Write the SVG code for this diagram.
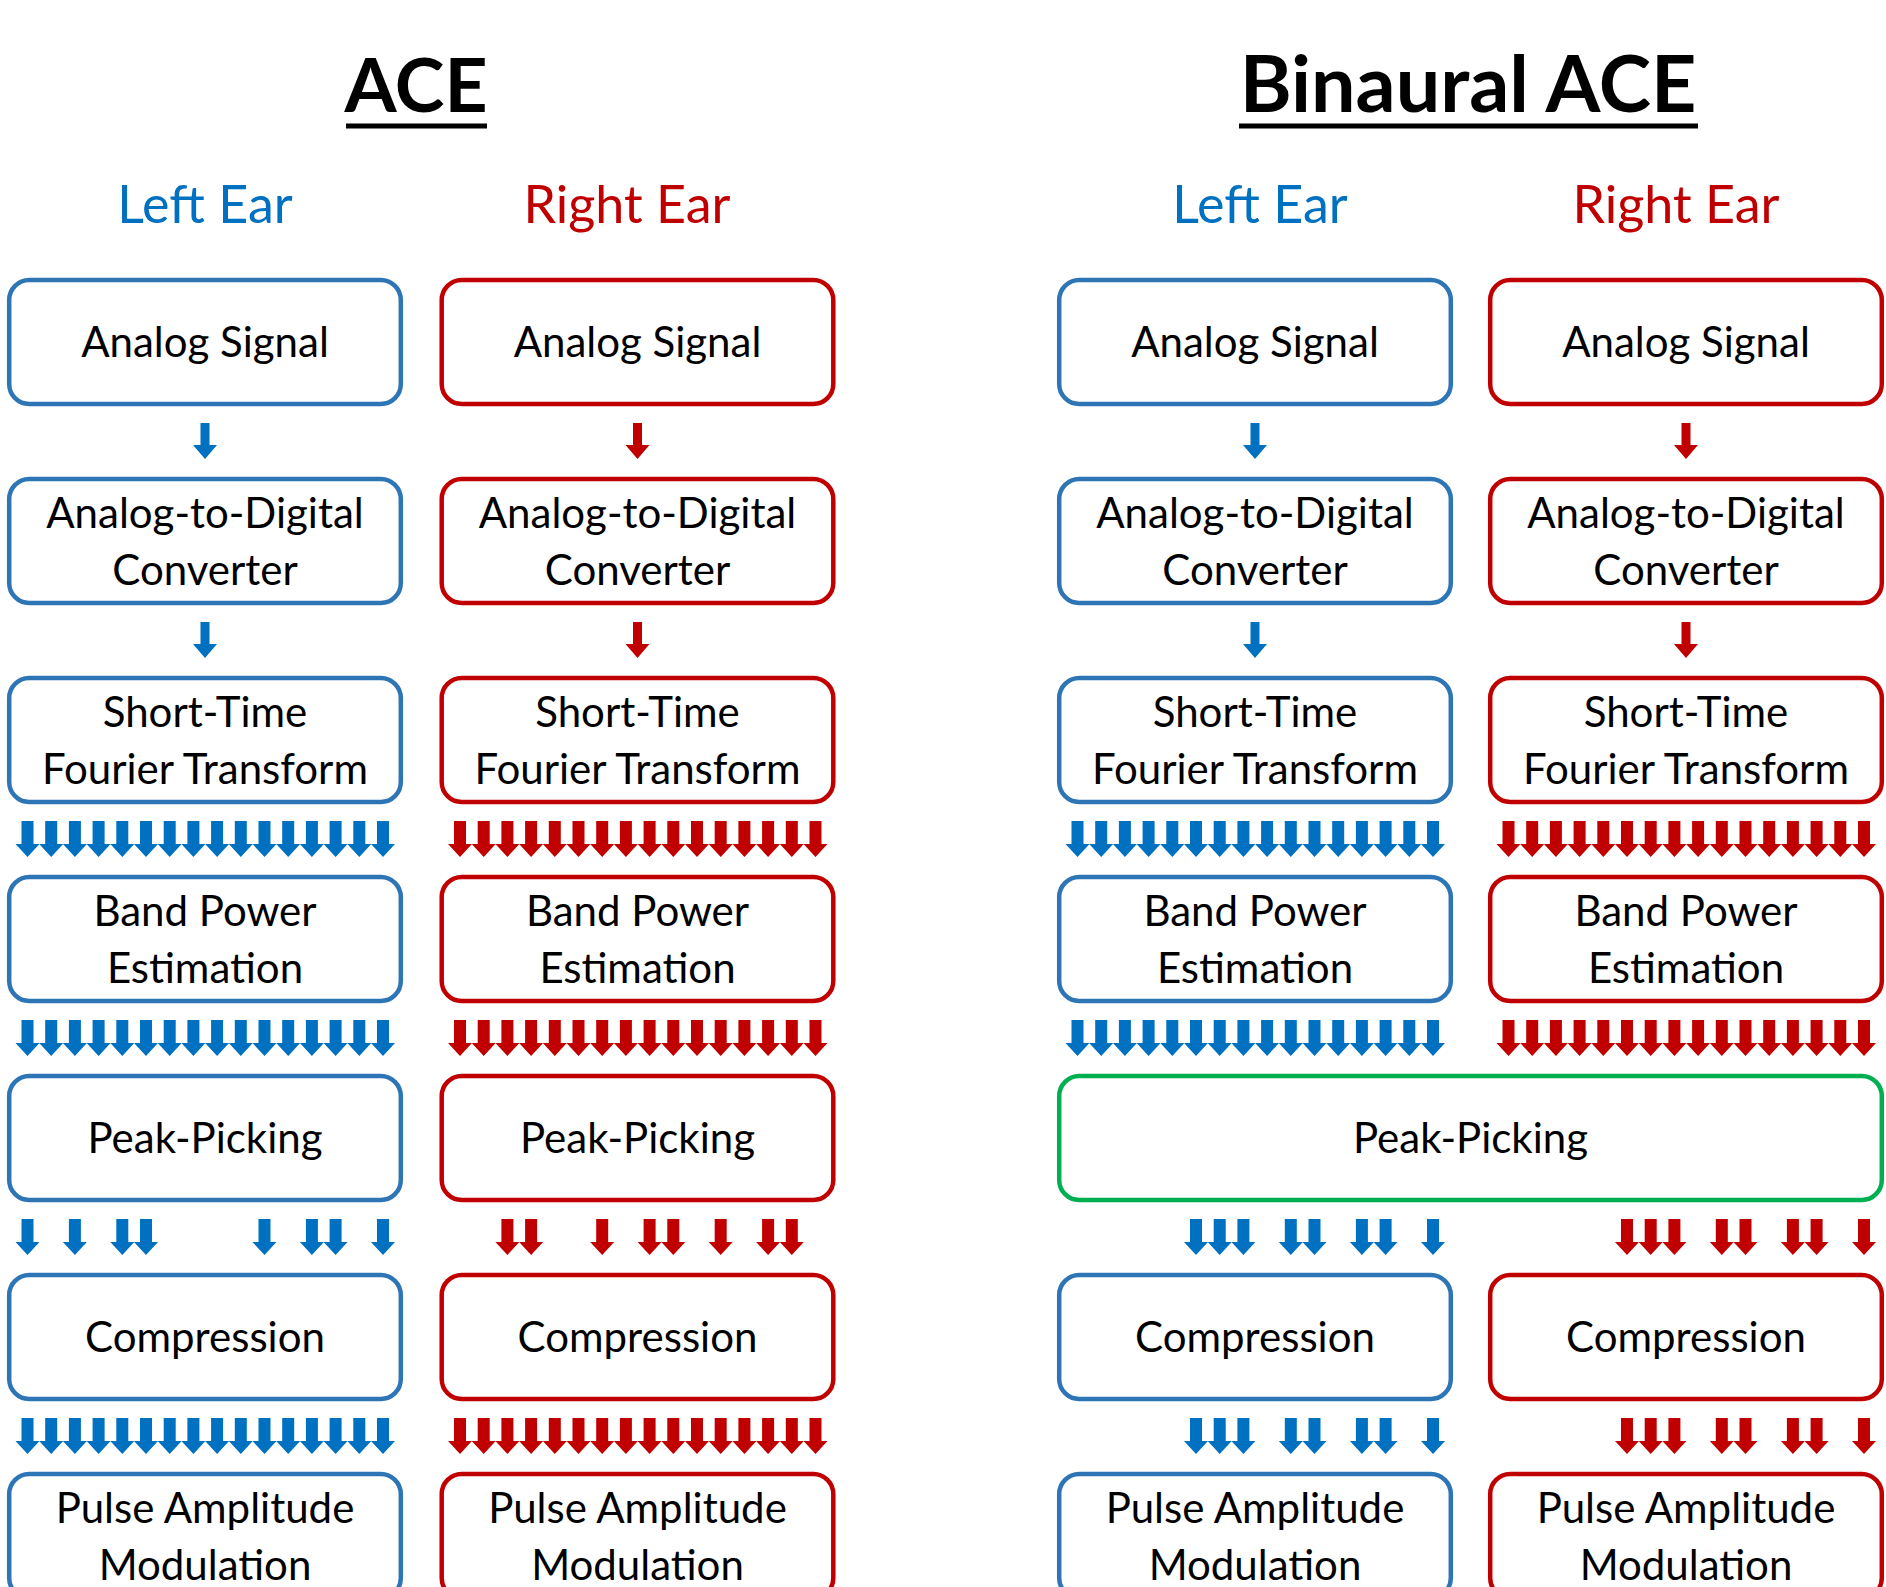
<svg xmlns="http://www.w3.org/2000/svg" xmlns:xlink="http://www.w3.org/1999/xlink" width="1886" height="1587" viewBox="0 0 1886 1587">
<style>
.box{fill:#fff;stroke-width:4.5}
.b{stroke:#2E75B6}
.r{stroke:#C00000}
.g{stroke:#00B050}
text{font-family:Lato,"Liberation Sans",sans-serif;text-anchor:middle;fill:#000}
.t{font-size:42px}
.ear{font-size:52px}
.lb{fill:#0070C0}
.lr{fill:#C00000}
.title{font-weight:bold;font-size:75px}
.ab{fill:#0070C0}
.ar{fill:#C00000}
</style>
<defs>
<path id="a1" d="M-4.5,0H4.5V22H12L0,36L-12,22H-4.5Z"/>
<path id="am" d="M-6,0H6V23H12L0,36L-12,23H-6Z"/>
<g id="row16">
<use href="#am" x="27.5"/><use href="#am" x="51.2"/><use href="#am" x="74.9"/><use href="#am" x="98.6"/>
<use href="#am" x="122.3"/><use href="#am" x="146"/><use href="#am" x="169.7"/><use href="#am" x="193.4"/>
<use href="#am" x="217.1"/><use href="#am" x="240.8"/><use href="#am" x="264.5"/><use href="#am" x="288.2"/>
<use href="#am" x="311.9"/><use href="#am" x="335.6"/><use href="#am" x="359.3"/><use href="#am" x="383"/>
</g>
<g id="pkL">
<use href="#am" x="27.5"/><use href="#am" x="74.9"/><use href="#am" x="122.3"/><use href="#am" x="146"/>
<use href="#am" x="264.5"/><use href="#am" x="311.9"/><use href="#am" x="335.6"/><use href="#am" x="383"/>
</g>
<g id="pkR">
<use href="#am" x="74.9"/><use href="#am" x="98.6"/><use href="#am" x="169.7"/><use href="#am" x="217.1"/>
<use href="#am" x="240.8"/><use href="#am" x="288.2"/><use href="#am" x="335.6"/><use href="#am" x="359.3"/>
</g>
<g id="pkB">
<use href="#am" x="146"/><use href="#am" x="169.7"/><use href="#am" x="193.4"/><use href="#am" x="240.8"/>
<use href="#am" x="264.5"/><use href="#am" x="311.9"/><use href="#am" x="335.6"/><use href="#am" x="383"/>
</g>
</defs>
<rect width="1886" height="1587" fill="#fff"/>

<g id="titles">
<text class="title" x="416" y="112">ACE</text>
<rect x="346" y="123.5" width="141" height="5" fill="#000"/>
<text class="title" x="1468" y="112" style="font-size:79px">Binaural ACE</text>
<rect x="1239" y="123.5" width="459" height="5" fill="#000"/>
<text class="ear lb" x="205" y="223">Left Ear</text>
<text class="ear lr" x="627" y="223">Right Ear</text>
<text class="ear lb" x="1260" y="223">Left Ear</text>
<text class="ear lr" x="1676" y="223">Right Ear</text>
</g>

<g id="connectors">
<use href="#a1" class="ab" x="205" y="423"/>
<use href="#a1" class="ar" x="637.5" y="423"/>
<use href="#a1" class="ab" x="1255" y="423"/>
<use href="#a1" class="ar" x="1686" y="423"/>
<use href="#a1" class="ab" x="205" y="622"/>
<use href="#a1" class="ar" x="637.5" y="622"/>
<use href="#a1" class="ab" x="1255" y="622"/>
<use href="#a1" class="ar" x="1686" y="622"/>
<use href="#row16" class="ab" x="0" y="821"/>
<use href="#row16" class="ar" x="432.5" y="821"/>
<use href="#row16" class="ab" x="1050" y="821"/>
<use href="#row16" class="ar" x="1481" y="821"/>
<use href="#row16" class="ab" x="0" y="1020"/>
<use href="#row16" class="ar" x="432.5" y="1020"/>
<use href="#row16" class="ab" x="1050" y="1020"/>
<use href="#row16" class="ar" x="1481" y="1020"/>
<use href="#pkL" class="ab" x="0" y="1219"/>
<use href="#pkR" class="ar" x="432.5" y="1219"/>
<use href="#pkB" class="ab" x="1050" y="1219"/>
<use href="#pkB" class="ar" x="1481" y="1219"/>
<use href="#row16" class="ab" x="0" y="1418"/>
<use href="#row16" class="ar" x="432.5" y="1418"/>
<use href="#pkB" class="ab" x="1050" y="1418"/>
<use href="#pkB" class="ar" x="1481" y="1418"/>
</g>

<!-- ACE left -->
<g id="aceL-analog"><rect class="box b" x="9.2" y="280" width="391.6" height="124" rx="20"/><text class="t" x="205" y="357">Analog Signal</text></g>
<g id="aceL-adc"><rect class="box b" x="9.2" y="479" width="391.6" height="124" rx="20"/><text class="t" x="205" y="527.5">Analog-to-Digital</text><text class="t" x="205" y="584.5">Converter</text></g>
<g id="aceL-stft"><rect class="box b" x="9.2" y="678" width="391.6" height="124" rx="20"/><text class="t" x="205" y="726.5">Short-Time</text><text class="t" x="205" y="783.5">Fourier Transform</text></g>
<g id="aceL-bpe"><rect class="box b" x="9.2" y="877" width="391.6" height="124" rx="20"/><text class="t" x="205" y="925.5">Band Power</text><text class="t" x="205" y="982.5">Estimation</text></g>
<g id="aceL-peak"><rect class="box b" x="9.2" y="1076" width="391.6" height="124" rx="20"/><text class="t" x="205" y="1153">Peak-Picking</text></g>
<g id="aceL-comp"><rect class="box b" x="9.2" y="1275" width="391.6" height="124" rx="20"/><text class="t" x="205" y="1352">Compression</text></g>
<g id="aceL-pam"><rect class="box b" x="9.2" y="1474" width="391.6" height="124" rx="20"/><text class="t" x="205" y="1522.5">Pulse Amplitude</text><text class="t" x="205" y="1579.5">Modulation</text></g>

<!-- ACE right -->
<g id="aceR-analog"><rect class="box r" x="441.7" y="280" width="391.6" height="124" rx="20"/><text class="t" x="637.5" y="357">Analog Signal</text></g>
<g id="aceR-adc"><rect class="box r" x="441.7" y="479" width="391.6" height="124" rx="20"/><text class="t" x="637.5" y="527.5">Analog-to-Digital</text><text class="t" x="637.5" y="584.5">Converter</text></g>
<g id="aceR-stft"><rect class="box r" x="441.7" y="678" width="391.6" height="124" rx="20"/><text class="t" x="637.5" y="726.5">Short-Time</text><text class="t" x="637.5" y="783.5">Fourier Transform</text></g>
<g id="aceR-bpe"><rect class="box r" x="441.7" y="877" width="391.6" height="124" rx="20"/><text class="t" x="637.5" y="925.5">Band Power</text><text class="t" x="637.5" y="982.5">Estimation</text></g>
<g id="aceR-peak"><rect class="box r" x="441.7" y="1076" width="391.6" height="124" rx="20"/><text class="t" x="637.5" y="1153">Peak-Picking</text></g>
<g id="aceR-comp"><rect class="box r" x="441.7" y="1275" width="391.6" height="124" rx="20"/><text class="t" x="637.5" y="1352">Compression</text></g>
<g id="aceR-pam"><rect class="box r" x="441.7" y="1474" width="391.6" height="124" rx="20"/><text class="t" x="637.5" y="1522.5">Pulse Amplitude</text><text class="t" x="637.5" y="1579.5">Modulation</text></g>

<!-- Binaural left -->
<g id="binL-analog"><rect class="box b" x="1059.2" y="280" width="391.6" height="124" rx="20"/><text class="t" x="1255" y="357">Analog Signal</text></g>
<g id="binL-adc"><rect class="box b" x="1059.2" y="479" width="391.6" height="124" rx="20"/><text class="t" x="1255" y="527.5">Analog-to-Digital</text><text class="t" x="1255" y="584.5">Converter</text></g>
<g id="binL-stft"><rect class="box b" x="1059.2" y="678" width="391.6" height="124" rx="20"/><text class="t" x="1255" y="726.5">Short-Time</text><text class="t" x="1255" y="783.5">Fourier Transform</text></g>
<g id="binL-bpe"><rect class="box b" x="1059.2" y="877" width="391.6" height="124" rx="20"/><text class="t" x="1255" y="925.5">Band Power</text><text class="t" x="1255" y="982.5">Estimation</text></g>
<g id="binL-comp"><rect class="box b" x="1059.2" y="1275" width="391.6" height="124" rx="20"/><text class="t" x="1255" y="1352">Compression</text></g>
<g id="binL-pam"><rect class="box b" x="1059.2" y="1474" width="391.6" height="124" rx="20"/><text class="t" x="1255" y="1522.5">Pulse Amplitude</text><text class="t" x="1255" y="1579.5">Modulation</text></g>

<!-- Binaural right -->
<g id="binR-analog"><rect class="box r" x="1490.2" y="280" width="391.6" height="124" rx="20"/><text class="t" x="1686" y="357">Analog Signal</text></g>
<g id="binR-adc"><rect class="box r" x="1490.2" y="479" width="391.6" height="124" rx="20"/><text class="t" x="1686" y="527.5">Analog-to-Digital</text><text class="t" x="1686" y="584.5">Converter</text></g>
<g id="binR-stft"><rect class="box r" x="1490.2" y="678" width="391.6" height="124" rx="20"/><text class="t" x="1686" y="726.5">Short-Time</text><text class="t" x="1686" y="783.5">Fourier Transform</text></g>
<g id="binR-bpe"><rect class="box r" x="1490.2" y="877" width="391.6" height="124" rx="20"/><text class="t" x="1686" y="925.5">Band Power</text><text class="t" x="1686" y="982.5">Estimation</text></g>
<g id="binR-comp"><rect class="box r" x="1490.2" y="1275" width="391.6" height="124" rx="20"/><text class="t" x="1686" y="1352">Compression</text></g>
<g id="binR-pam"><rect class="box r" x="1490.2" y="1474" width="391.6" height="124" rx="20"/><text class="t" x="1686" y="1522.5">Pulse Amplitude</text><text class="t" x="1686" y="1579.5">Modulation</text></g>

<!-- Binaural shared peak picking -->
<g id="bin-peak"><rect class="box g" x="1059.2" y="1076" width="822.6" height="124" rx="20"/><text class="t" x="1470.5" y="1153">Peak-Picking</text></g>
</svg>
